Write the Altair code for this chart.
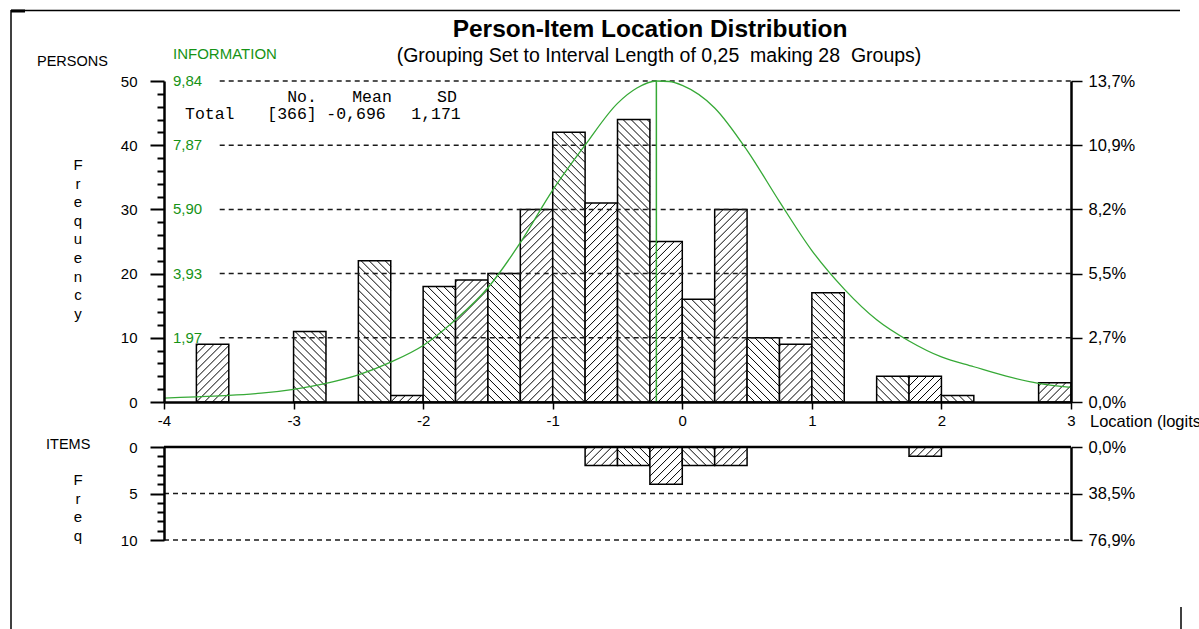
import altair as alt
import pandas as pd

# ---------------------------------------------------------------------------
# Data: person / item location histograms (28 groups of 0.25 logits, -4..3)
# ---------------------------------------------------------------------------
BIN_START = -4.0
BIN_WIDTH = 0.25
PERSON_COUNTS = [0, 9, 0, 0, 11, 0, 22, 1, 18, 19, 20, 30, 42, 31,
                 44, 25, 16, 30, 10, 9, 17, 0, 4, 4, 1, 0, 0, 3]
ITEM_COUNTS = [0, 0, 0, 0, 0, 0, 0, 0, 0, 0, 0, 0, 0, 2,
               2, 4, 2, 2, 0, 0, 0, 0, 0, 1, 0, 0, 0, 0]

# Test information function (location in logits, information)
INFO_LOC = [-4.0, -3.75, -3.5, -3.25, -3.0, -2.75, -2.5, -2.25, -2.0, -1.75,
            -1.5, -1.25, -1.0, -0.75, -0.5, -0.35, -0.2, -0.1, 0.0, 0.25,
            0.5, 0.75, 1.0, 1.25, 1.5, 1.75, 2.0, 2.25, 2.5, 2.75, 3.0]
INFO_VAL = [0.12, 0.16, 0.20, 0.27, 0.39, 0.57, 0.83, 1.22, 1.73, 2.52,
            3.50, 4.88, 6.49, 7.87, 9.15, 9.62, 9.835, 9.82, 9.70, 9.01,
            7.71, 6.14, 4.64, 3.46, 2.52, 1.87, 1.38, 1.08, 0.79, 0.57, 0.45]
INFO_MAX = 9.835
INFO_PEAK_LOC = -0.2

# Person summary statistics
N_PERSONS = 366
PERSON_MEAN = -0.696
PERSON_SD = 1.171
N_ITEMS = 13

# Tick values and labels
X_TICKS = [-4, -3, -2, -1, 0, 1, 2, 3]
FREQ_TICKS = [0, 10, 20, 30, 40, 50]
ITEM_TICKS = [0, 5, 10]
INFO_TICKS = [1.967, 3.934, 5.901, 7.868, 9.835]
INFO_TICK_LABELS = ["1,97", "3,93", "5,90", "7,87", "9,84"]

# ---------------------------------------------------------------------------
# Layout (pixels on a 1199 x 629 canvas)
# ---------------------------------------------------------------------------
W, H = 1199, 629
XMIN, XMAX = -4.0, 3.0
X_RANGE = [164, 1071]
P_RANGE = [402, 81]      # persons panel: 0 .. 50
I_RANGE = [447, 540]     # items panel: 0 .. 10 (downwards)
P_MAX, I_MAX = 50, 10
GRID_START = -3.57       # dashed guides start after the green labels
HATCH_GAP = 8
DASH = [5, 4]

SANS = "Liberation Sans"
MONO = "Liberation Mono"
GREEN = "#169316"
CURVE_GREEN = "#36a936"

FREQ_MINOR = [v for v in range(2, P_MAX, 2) if v % 10]
ITEM_MINOR = [v for v in range(1, I_MAX) if v % 5]

KX = (X_RANGE[1] - X_RANGE[0]) / (XMAX - XMIN)
KY_P = (P_RANGE[0] - P_RANGE[1]) / P_MAX
KY_I = (I_RANGE[1] - I_RANGE[0]) / I_MAX

xs = alt.Scale(domain=[XMIN, XMAX], range=X_RANGE, nice=False, zero=False)
ys_p = alt.Scale(domain=[0, P_MAX], range=P_RANGE, nice=False)
ys_i = alt.Scale(domain=[0, I_MAX], range=I_RANGE, nice=False)
ys_info = alt.Scale(domain=[0, INFO_MAX], range=P_RANGE, nice=False)


def bar_table(counts):
    rows = []
    for i, n in enumerate(counts):
        if n > 0:
            lo = BIN_START + i * BIN_WIDTH
            rows.append({"lo": lo, "hi": lo + BIN_WIDTH, "n": n})
    return pd.DataFrame(rows)


def hatch_table(counts, ky, downward):
    """Diagonal hatch segments clipped to each bar; odd groups rise, even fall."""
    rows = []
    w = BIN_WIDTH * KX
    for i, n in enumerate(counts):
        if n <= 0:
            continue
        x0 = BIN_START + i * BIN_WIDTH
        h = n * ky
        rising = i % 2 == 1
        j0 = int(-w // HATCH_GAP) - 1
        j1 = int((w + h) // HATCH_GAP) + 2
        for j in range(j0, j1):
            c = j * HATCH_GAP
            if rising:
                ua, ub = max(0.0, -c), min(w, h - c)
                va, vb = ua + c, ub + c
            else:
                ua, ub = max(0.0, c - h), min(w, c)
                va, vb = c - ua, c - ub
            if ub - ua < 0.8:
                continue
            if downward:
                ya, yb = n - va / ky, n - vb / ky
            else:
                ya, yb = va / ky, vb / ky
            rows.append({"xa": x0 + ua / KX, "xb": x0 + ub / KX, "ya": ya, "yb": yb})
    return pd.DataFrame(rows)


def pct_expr(total):
    return f"replace(format(datum.value / {total} * 100, '.1f'), '.', ',') + '%'"


def dec(v, nd):
    return f"{v:.{nd}f}".replace(".", ",")


ONE = pd.DataFrame({"k": [0]})

# ---------------------------------------------------------------------------
# Axes
# ---------------------------------------------------------------------------
axis_common = dict(title=None, grid=False, zindex=2, labelOverlap=False,
                   labelFlush=False, labelBound=False)

x_axis = alt.Axis(orient="bottom", offset=P_RANGE[0] - H, values=X_TICKS,
                  tickSize=7, tickWidth=1.5, domainWidth=2.5, labelPadding=4,
                  labelExpr="'' + datum.value", **axis_common)
p_left = alt.Axis(orient="left", offset=-X_RANGE[0], values=FREQ_TICKS,
                  tickSize=14, tickWidth=2, domainWidth=2.5, labelPadding=13,
                  labelExpr="'' + datum.value", **axis_common)
p_minor = alt.Axis(orient="left", offset=-X_RANGE[0], values=FREQ_MINOR,
                   tickSize=7, tickWidth=2, domain=False, labels=False,
                   **axis_common)
p_right = alt.Axis(orient="right", offset=X_RANGE[1] - W, values=FREQ_TICKS,
                   tickSize=11, tickWidth=1.5, domainWidth=2.5, labelPadding=6,
                   labelFontSize=16.5, labelExpr=pct_expr(N_PERSONS), **axis_common)
i_left = alt.Axis(orient="left", offset=-X_RANGE[0], values=ITEM_TICKS,
                  tickSize=14, tickWidth=2, domainWidth=2.5, labelPadding=13,
                  labelExpr="'' + datum.value", **axis_common)
i_minor = alt.Axis(orient="left", offset=-X_RANGE[0], values=ITEM_MINOR,
                   tickSize=7, tickWidth=2, domain=False, labels=False,
                   **axis_common)
i_right = alt.Axis(orient="right", offset=X_RANGE[1] - W, values=ITEM_TICKS,
                   tickSize=11, tickWidth=1.5, domainWidth=2.5, labelPadding=6,
                   labelFontSize=16.5, labelExpr=pct_expr(N_ITEMS), **axis_common)

# ---------------------------------------------------------------------------
# Persons panel
# ---------------------------------------------------------------------------
persons_bars = alt.Chart(bar_table(PERSON_COUNTS)).mark_rect(
    fill="white", stroke="black", strokeWidth=1.5
).encode(
    x=alt.X("lo:Q", scale=xs, axis=x_axis),
    x2="hi:Q",
    y=alt.Y("n:Q", scale=ys_p, axis=p_left),
    y2=alt.Y2(datum=0),
)

persons_hatch = alt.Chart(hatch_table(PERSON_COUNTS, KY_P, False)).mark_rule(
    color="black", strokeWidth=1
).encode(
    x=alt.X("xa:Q", scale=xs, axis=None),
    x2="xb:Q",
    y=alt.Y("ya:Q", scale=ys_p, axis=p_right),
    y2="yb:Q",
)

persons_grid = alt.Chart(pd.DataFrame({"v": FREQ_TICKS[1:]})).mark_rule(
    color="#1a1a1a", strokeWidth=1.5, strokeDash=DASH
).encode(
    x=alt.X(datum=GRID_START, scale=xs, axis=None),
    x2=alt.X2(datum=XMAX),
    y=alt.Y("v:Q", scale=ys_p, axis=p_minor),
)

info_curve = alt.Chart(pd.DataFrame({"loc": INFO_LOC, "info": INFO_VAL})).mark_line(
    color=CURVE_GREEN, strokeWidth=1.3, interpolate="monotone"
).encode(
    x=alt.X("loc:Q", scale=xs, axis=None),
    y=alt.Y("info:Q", scale=ys_info, axis=None),
)

info_peak = alt.Chart(ONE).mark_rule(color=CURVE_GREEN, strokeWidth=1.5).encode(
    x=alt.X(datum=INFO_PEAK_LOC, scale=xs, axis=None),
    y=alt.Y(datum=0, scale=ys_info, axis=None),
    y2=alt.Y2(datum=INFO_MAX),
)

info_labels = alt.Chart(pd.DataFrame({"v": INFO_TICKS, "label": INFO_TICK_LABELS})).mark_text(
    align="left", baseline="middle", font=SANS, fontSize=15, color=GREEN
).encode(
    x=alt.value(173),
    y=alt.Y("v:Q", scale=ys_info, axis=None),
    text="label:N",
)

# ---------------------------------------------------------------------------
# Items panel
# ---------------------------------------------------------------------------
items_bars = alt.Chart(bar_table(ITEM_COUNTS)).mark_rect(
    fill="white", stroke="black", strokeWidth=1.5
).encode(
    x=alt.X("lo:Q", scale=xs, axis=None),
    x2="hi:Q",
    y=alt.Y("n:Q", scale=ys_i, axis=i_left),
    y2=alt.Y2(datum=0),
)

items_hatch = alt.Chart(hatch_table(ITEM_COUNTS, KY_I, True)).mark_rule(
    color="black", strokeWidth=1
).encode(
    x=alt.X("xa:Q", scale=xs, axis=None),
    x2="xb:Q",
    y=alt.Y("ya:Q", scale=ys_i, axis=i_minor),
    y2="yb:Q",
)

items_grid = alt.Chart(pd.DataFrame({"v": ITEM_TICKS[1:]})).mark_rule(
    color="#1a1a1a", strokeWidth=1.5, strokeDash=DASH
).encode(
    x=alt.X(datum=XMIN, scale=xs, axis=None),
    x2=alt.X2(datum=XMAX),
    y=alt.Y("v:Q", scale=ys_i, axis=i_right),
)

items_top = alt.Chart(ONE).mark_rule(color="black", strokeWidth=2.5).encode(
    x=alt.X(datum=XMIN, scale=xs, axis=None),
    x2=alt.X2(datum=XMAX),
    y=alt.Y(datum=0, scale=ys_i, axis=None),
)

# ---------------------------------------------------------------------------
# Texts
# ---------------------------------------------------------------------------
def label(text, x, y, size=15, align="left", color="black", font=SANS,
          weight="normal", baseline="middle", line_height=None):
    kw = dict(text=text, align=align, baseline=baseline, font=font,
              fontSize=size, color=color, fontWeight=weight)
    if line_height is not None:
        kw["lineHeight"] = line_height
    return alt.Chart(ONE).mark_text(**kw).encode(x=alt.value(x), y=alt.value(y))


NB = "\u00a0"
texts = [
    label("Person-Item Location Distribution", 650, 30, size=24.5,
          align="center", weight="bold"),
    label(f"(Grouping Set to Interval Length of 0,25 {NB}making 28 {NB}Groups)",
          659, 56, size=19.5, align="center"),
    label("PERSONS", 37, 62, size=14.5),
    label("INFORMATION", 173, 53.5, size=15, color=GREEN),
    label("ITEMS", 46, 445, size=14.5),
    label("Location (logits)", 1090, 422, size=16.5),
    label(list("Frequency"), 78, 170, size=15, align="center",
          baseline="alphabetic", line_height=18.6),
    label(list("Freq"), 78, 485, size=15, align="center",
          baseline="alphabetic", line_height=18.5),
    # summary statistics box
    label("No.", 302, 97, size=16.5, align="center", font=MONO),
    label("Mean", 372, 97, size=16.5, align="center", font=MONO),
    label("SD", 447, 97, size=16.5, align="center", font=MONO),
    label("Total", 185, 114, size=16.5, font=MONO),
    label(f"[{N_PERSONS}]", 292, 114, size=16.5, align="center", font=MONO),
    label(dec(PERSON_MEAN, 3), 356, 114, size=16.5, align="center", font=MONO),
    label(dec(PERSON_SD, 3), 436, 114, size=16.5, align="center", font=MONO),
]

# Page frame
frame = [
    alt.Chart(ONE).mark_rule(color="black", strokeWidth=1.5).encode(
        x=alt.value(11), y=alt.value(10), y2=alt.value(H)),
    alt.Chart(ONE).mark_rule(color="black", strokeWidth=1.5).encode(
        x=alt.value(11), x2=alt.value(1180), y=alt.value(10.5)),
    alt.Chart(ONE).mark_rule(color="black", strokeWidth=3).encode(
        x=alt.value(11), x2=alt.value(25), y=alt.value(11)),
    alt.Chart(ONE).mark_rule(color="black", strokeWidth=1.5).encode(
        x=alt.value(1181), y=alt.value(607), y2=alt.value(H)),
]

chart = alt.layer(
    persons_bars, persons_hatch, persons_grid, info_curve, info_peak, info_labels,
    items_bars, items_hatch, items_grid, items_top,
    *texts, *frame,
).resolve_scale(
    x="independent", y="independent"
).properties(
    width=W, height=H, padding=0, background="white",
    autosize=alt.AutoSizeParams(type="none"),
).configure_view(
    stroke=None
).configure_axis(
    labelFont=SANS, labelFontSize=15, labelColor="black",
    domainColor="black", tickColor="black",
)

chart.save("out.html", embed_options={"renderer": "svg", "actions": False})
